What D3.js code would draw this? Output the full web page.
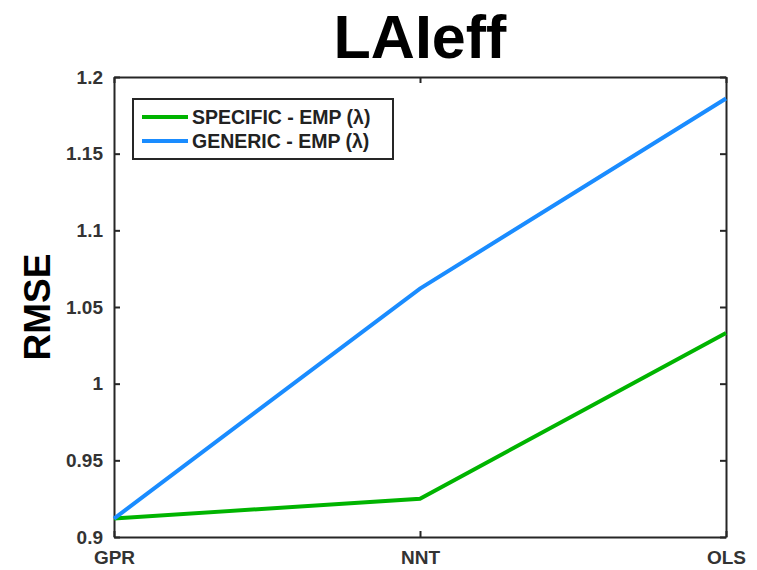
<!DOCTYPE html>
<html>
<head>
<meta charset="utf-8">
<script src="https://cdn.jsdelivr.net/npm/d3@7"></script>
<style>
  body { margin: 0; background: #fff; }
  text { font-family: "Liberation Sans", Arial, Helvetica, sans-serif; font-weight: bold; }
</style>
</head>
<body>
<div id="chart"></div>
<script>
// values
var categories = ["GPR", "NNT", "OLS"];
var specific = [0.912, 0.925, 1.033];
var generic = [0.912, 1.062, 1.186];
var yTicks = [0.9, 0.95, 1, 1.05, 1.1, 1.15, 1.2];
var seriesNames = ["SPECIFIC - EMP (\u03bb)", "GENERIC - EMP (\u03bb)"];
var seriesColors = ["#00b400", "#1a8cff"];

var margin = { left: 114, right: 31, top: 77, bottom: 33 };
var width = 757 - margin.left - margin.right;
var height = 570 - margin.top - margin.bottom;
var axisColor = "#262626";

var svg = d3.select("#chart")
	.append("svg")
		.attr("width", 757)
		.attr("height", 570);

var g = svg.append("g")
	.attr("transform", "translate(" + margin.left + "," + margin.top + ")");

var x = d3.scalePoint()
	.domain(categories)
	.range([0, width]);

var y = d3.scaleLinear()
	.domain([0.9, 1.2])
	.range([height, 0]);

// ticks on left and right (inside), bottom and top
var yLeft = d3.axisLeft(y).tickValues(yTicks).tickSizeInner(-6).tickSizeOuter(0)
	.tickPadding(11).tickFormat(function(d) { return d3.format("")(+d.toFixed(2)); });
var yRight = d3.axisRight(y).tickValues(yTicks).tickSizeInner(-6).tickSizeOuter(0).tickFormat("");
var xBottom = d3.axisBottom(x).tickSizeInner(-6).tickSizeOuter(0).tickPadding(14);
var xTop = d3.axisTop(x).tickSizeInner(-6).tickSizeOuter(0).tickFormat("");

g.append("g").attr("class", "axis").call(yLeft);
g.append("g").attr("class", "axis").attr("transform", "translate(" + width + ",0)").call(yRight);
g.append("g").attr("class", "axis").attr("transform", "translate(0," + height + ")").call(xBottom);
g.append("g").attr("class", "axis").call(xTop);

g.selectAll(".axis path, .axis line")
	.attr("stroke", axisColor)
	.attr("stroke-width", 2);
g.selectAll(".axis text")
	.attr("fill", "#333")
	.style("font-size", "19px");

// lines
var line = d3.line()
	.x(function(d, i) { return x(categories[i]); })
	.y(function(d) { return y(d); });

var series = [specific, generic];
g.selectAll(".series")
	.data(series)
	.enter()
	.append("path")
		.attr("class", "series")
		.attr("d", line)
		.attr("fill", "none")
		.attr("stroke", function(d, i) { return seriesColors[i]; })
		.attr("stroke-width", 4);

// legend
var legend = g.append("g").attr("transform", "translate(19,22)");
legend.append("rect")
	.attr("width", 260)
	.attr("height", 60)
	.attr("fill", "#fff")
	.attr("stroke", axisColor)
	.attr("stroke-width", 2);

var items = legend.selectAll(".item")
	.data(seriesNames)
	.enter()
	.append("g")
		.attr("class", "item")
		.attr("transform", function(d, i) { return "translate(0," + (18 + i * 24) + ")"; });

items.append("line")
	.attr("x1", 9).attr("x2", 55)
	.attr("stroke", function(d, i) { return seriesColors[i]; })
	.attr("stroke-width", 4);

items.append("text")
	.attr("x", 59)
	.attr("dy", "0.35em")
	.attr("fill", "#222")
	.style("font-size", "19.5px")
	.text(function(d) { return d; });

// title and y label
svg.append("text")
	.attr("x", margin.left + width / 2)
	.attr("y", 58)
	.attr("text-anchor", "middle")
	.style("font-size", "61px")
	.text("LAIeff");

svg.append("text")
	.attr("transform", "translate(50," + (margin.top + height / 2) + ") rotate(-90)")
	.attr("text-anchor", "middle")
	.style("font-size", "37px")
	.text("RMSE");
</script>
</body>
</html>
